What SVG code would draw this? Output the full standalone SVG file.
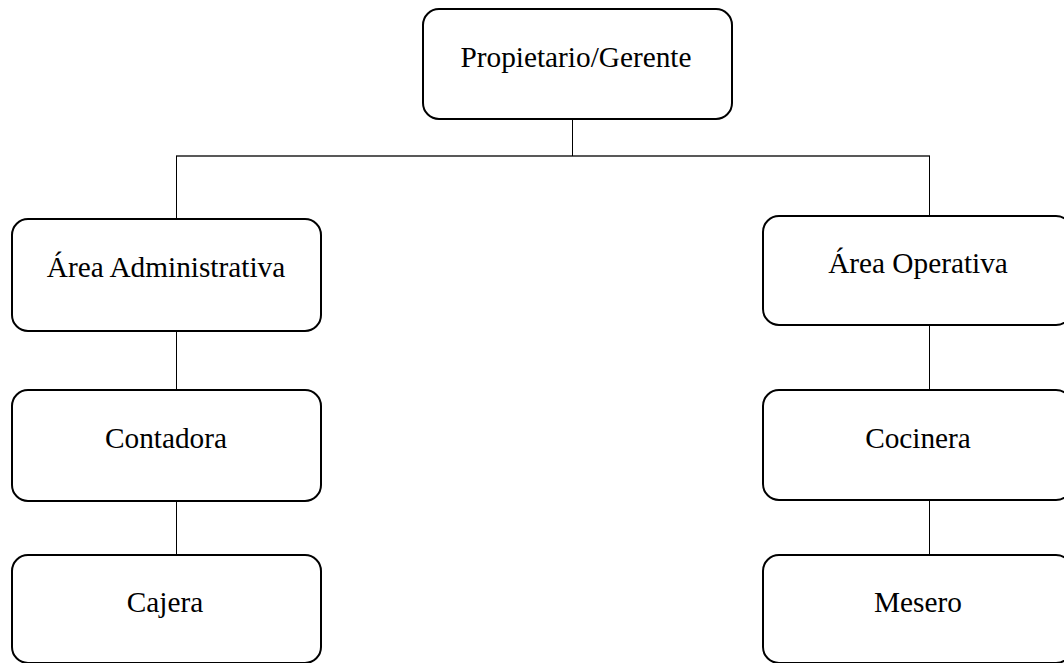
<svg xmlns="http://www.w3.org/2000/svg" width="1064" height="663" viewBox="0 0 1064 663">
  <style>
    .box { fill: #ffffff; stroke: #000000; stroke-width: 2; }
    .lbl { font-family: "Liberation Serif", "Times New Roman", serif; font-size: 29.3px; fill: #000000; text-anchor: middle; }
    .wire { stroke: #000000; stroke-width: 1; fill: none; }
    .bus { stroke: #595959; stroke-width: 2; fill: none; }
  </style>
  <rect width="1064" height="663" fill="#ffffff"/>

  <!-- connectors -->
  <g id="connectors">
    <line class="bus" x1="176" y1="156" x2="930" y2="156"/>
    <line class="wire" x1="572.5" y1="119" x2="572.5" y2="156"/>
    <line class="wire" x1="176.5" y1="156" x2="176.5" y2="219"/>
    <line class="wire" x1="929.5" y1="156" x2="929.5" y2="216"/>
    <line class="wire" x1="176.5" y1="331" x2="176.5" y2="390"/>
    <line class="wire" x1="176.5" y1="501" x2="176.5" y2="555"/>
    <line class="wire" x1="929.5" y1="325" x2="929.5" y2="390"/>
    <line class="wire" x1="929.5" y1="500" x2="929.5" y2="555"/>
  </g>

  <g id="propietario">
    <rect class="box" x="423" y="9" width="309" height="110" rx="16"/>
    <text class="lbl" x="576" y="67">Propietario/Gerente</text>
  </g>

  <g id="area-administrativa">
    <rect class="box" x="12" y="219" width="309" height="112" rx="16"/>
    <text class="lbl" x="166" y="277">Área Administrativa</text>
  </g>

  <g id="area-operativa">
    <rect class="box" x="763" y="216" width="309" height="109" rx="16"/>
    <text class="lbl" x="918" y="273">Área Operativa</text>
  </g>

  <g id="contadora">
    <rect class="box" x="12" y="390" width="309" height="111" rx="16"/>
    <text class="lbl" x="166" y="448">Contadora</text>
  </g>

  <g id="cocinera">
    <rect class="box" x="763" y="390" width="309" height="110" rx="16"/>
    <text class="lbl" x="918" y="448">Cocinera</text>
  </g>

  <g id="cajera">
    <rect class="box" x="12" y="555" width="309" height="108" rx="16"/>
    <text class="lbl" x="165" y="612">Cajera</text>
  </g>

  <g id="mesero">
    <rect class="box" x="763" y="555" width="309" height="108" rx="16"/>
    <text class="lbl" x="918" y="612">Mesero</text>
  </g>
</svg>
